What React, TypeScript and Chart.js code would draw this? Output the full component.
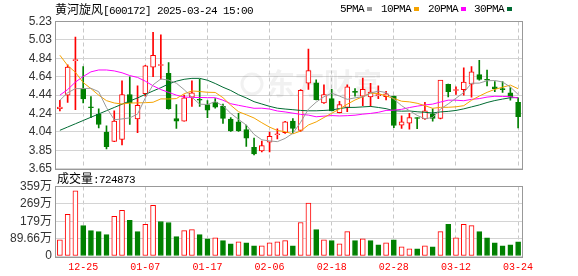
import React, { useEffect, useRef } from 'react';
import { Chart, registerables } from 'chart.js';

Chart.register(...registerables);

// ---------- data ----------
const dates = [
  '12-20', '12-23', '12-24', '12-25', '12-26', '12-27', '12-30', '12-31', '01-02', '01-03',
  '01-06', '01-07', '01-08', '01-09', '01-10', '01-13', '01-14', '01-15', '01-16', '01-17',
  '01-20', '01-21', '01-22', '01-23', '01-24', '01-27', '02-05', '02-06', '02-07', '02-10',
  '02-11', '02-12', '02-13', '02-14', '02-17', '02-18', '02-19', '02-20', '02-21', '02-24',
  '02-25', '02-26', '02-27', '02-28', '03-03', '03-04', '03-05', '03-06', '03-07', '03-10',
  '03-11', '03-12', '03-13', '03-14', '03-17', '03-18', '03-19', '03-20', '03-21', '03-24',
];
const shownDates = ['12-25', '01-07', '01-17', '02-06', '02-18', '02-28', '03-12', '03-24'];

const opens = [
  4.294, 4.44, 4.81, 4.51, 4.31, 4.235, 4.045, 3.943, 3.965, 4.447,
  4.184, 4.455, 4.74, 4.758, 4.674, 4.188, 4.162, 4.418, 4.39, 4.338,
  4.367, 4.32, 4.184, 4.155, 4.07, 3.88, 3.843, 3.935, 4.015, 4.038,
  4.162, 4.063, 4.568, 4.572, 4.356, 4.403, 4.253, 4.308, 4.475, 4.43,
  4.42, 4.435, 4.425, 4.429, 4.118, 4.14, 4.196, 4.184, 4.239, 4.191,
  4.557, 4.49, 4.5, 4.557, 4.66, 4.61, 4.528, 4.505, 4.466, 4.363,
];
const highs = [
  4.385, 4.765, 5.062, 4.747, 4.425, 4.294, 4.11, 4.272, 4.594, 4.637,
  4.539, 4.76, 5.113, 5.087, 4.79, 4.338, 4.44, 4.594, 4.61, 4.381,
  4.403, 4.345, 4.2, 4.246, 4.118, 3.979, 3.946, 4.045, 4.08, 4.16,
  4.19, 4.5, 4.934, 4.605, 4.55, 4.502, 4.374, 4.55, 4.51, 4.623,
  4.568, 4.54, 4.48, 4.43, 4.217, 4.246, 4.2, 4.363, 4.294, 4.6,
  4.56, 4.528, 4.733, 4.747, 4.813, 4.71, 4.586, 4.586, 4.52, 4.41,
];
const lows = [
  4.27, 4.363, 4.283, 4.356, 4.199, 4.089, 3.862, 3.94, 3.906, 4.125,
  4.038, 4.43, 4.637, 4.612, 4.29, 4.082, 4.16, 4.32, 4.32, 4.199,
  4.3, 4.136, 4.05, 4.05, 3.89, 3.8, 3.83, 3.83, 3.97, 4.03,
  4.027, 4.05, 4.502, 4.39, 4.35, 4.27, 4.25, 4.264, 4.43, 4.327,
  4.32, 4.403, 4.39, 4.09, 4.082, 4.075, 4.08, 4.18, 4.162, 4.185,
  4.422, 4.447, 4.44, 4.418, 4.6, 4.54, 4.477, 4.47, 4.385, 4.089,
];
const closes = [
  4.312, 4.74, 4.815, 4.4, 4.305, 4.125, 3.888, 4.162, 4.447, 4.356,
  4.33, 4.755, 4.868, 4.76, 4.294, 4.162, 4.41, 4.466, 4.385, 4.279,
  4.312, 4.191, 4.056, 4.06, 3.978, 3.81, 3.899, 3.997, 4.02, 4.155,
  4.082, 4.491, 4.703, 4.392, 4.447, 4.272, 4.338, 4.528, 4.47, 4.502,
  4.473, 4.44, 4.455, 4.114, 4.155, 4.199, 4.19, 4.272, 4.191, 4.601,
  4.477, 4.492, 4.58, 4.689, 4.608, 4.6, 4.51, 4.5, 4.418, 4.21,
];
// volume in 万 (10k shares)
const volumes = [
  84, 215, 336, 157, 131, 126, 110, 205, 236, 184,
  126, 163, 262, 178, 173, 100, 131, 136, 110, 89,
  94, 79, 63, 73, 68, 52, 52, 68, 73, 79,
  52, 173, 273, 136, 84, 79, 63, 126, 79, 89,
  79, 58, 68, 84, 47, 37, 37, 52, 47, 126,
  163, 94, 163, 157, 126, 94, 68, 52, 58, 72.4873,
];
const ma5 = [
  4.385, 4.466, 4.51, 4.51, 4.514, 4.477, 4.307, 4.176, 4.185, 4.196,
  4.237, 4.41, 4.551, 4.614, 4.601, 4.568, 4.499, 4.418, 4.343, 4.34,
  4.37, 4.327, 4.245, 4.18, 4.119, 4.019, 3.961, 3.949, 3.941, 3.976,
  4.031, 4.149, 4.29, 4.365, 4.423, 4.461, 4.43, 4.395, 4.411, 4.422,
  4.462, 4.483, 4.468, 4.397, 4.327, 4.273, 4.223, 4.186, 4.201, 4.291,
  4.346, 4.407, 4.468, 4.568, 4.569, 4.594, 4.597, 4.581, 4.527, 4.448,
];
const ma10 = [
  4.868, 4.758, 4.685, 4.575, 4.51, 4.44, 4.381, 4.356, 4.345, 4.355,
  4.357, 4.359, 4.364, 4.4, 4.399, 4.403, 4.455, 4.485, 4.479, 4.471,
  4.469, 4.413, 4.332, 4.262, 4.23, 4.195, 4.144, 4.097, 4.061, 4.048,
  4.025, 4.055, 4.12, 4.153, 4.2, 4.246, 4.29, 4.343, 4.388, 4.423,
  4.462, 4.457, 4.432, 4.404, 4.375, 4.368, 4.353, 4.327, 4.299, 4.309,
  4.31, 4.315, 4.327, 4.385, 4.43, 4.47, 4.502, 4.525, 4.548, 4.509,
];
const ma20 = [
  4.44, 4.5, 4.58, 4.64, 4.69, 4.71, 4.71, 4.7, 4.68, 4.65,
  4.63, 4.59, 4.54, 4.5, 4.47, 4.44, 4.42, 4.415, 4.415, 4.413,
  4.413, 4.386, 4.348, 4.331, 4.315, 4.299, 4.3, 4.291, 4.27, 4.26,
  4.247, 4.234, 4.226, 4.208, 4.215, 4.221, 4.217, 4.22, 4.225, 4.236,
  4.244, 4.256, 4.276, 4.279, 4.288, 4.307, 4.322, 4.335, 4.344, 4.366,
  4.386, 4.386, 4.38, 4.395, 4.403, 4.419, 4.428, 4.426, 4.424, 4.409,
];
const ma30 = [
  4.063, 4.098, 4.133, 4.168, 4.203, 4.238, 4.273, 4.308, 4.343, 4.378,
  4.41, 4.448, 4.485, 4.52, 4.56, 4.59, 4.61, 4.62, 4.62, 4.6,
  4.565, 4.525, 4.49, 4.445, 4.41, 4.37, 4.345, 4.32, 4.3, 4.291,
  4.284, 4.276, 4.272, 4.272, 4.276, 4.281, 4.296, 4.308, 4.309, 4.314,
  4.319, 4.308, 4.295, 4.273, 4.268, 4.27, 4.262, 4.256, 4.249, 4.26,
  4.266, 4.276, 4.293, 4.314, 4.335, 4.361, 4.382, 4.398, 4.412, 4.414,
];

const priceTickLabels = ['3.65', '3.85', '4.04', '4.24', '4.44', '4.64', '4.84', '5.03', '5.23'];
const priceMin = 3.65;
const priceMax = 5.23;
const volTickLabels = ['0', '89.66万', '179万', '269万', '359万'];
const volMax = 358.64;
const lastVolume = '724873';
const stockName = '黄河旋风';
const stockInfo = '[600172] 2025-03-24 15:00';
const maNames = ['5PMA', '10PMA', '20PMA', '30PMA'];

// ---------- styles ----------
const RED = '#ff0000';
const GREEN = '#008000';
const MA_COLORS = ['#9a9a9a', '#f5a300', '#ff00ff', '#006b33'];
const AXIS_FONT = '"Liberation Sans", Arial, "Noto Sans CJK SC", sans-serif';
const MONO_FONT = '"Liberation Mono", "DejaVu Sans Mono", monospace';
const CJK_FONT = '"Noto Sans CJK SC", sans-serif';
const LEGEND_POS = [340, 381, 428, 474];

export default function App() {
  const priceRef = useRef<HTMLCanvasElement>(null);
  const volRef = useRef<HTMLCanvasElement>(null);

  useEffect(() => {
    document.body.style.margin = '0';
    const up = closes.map((c, i) => c >= opens[i]);
    const volUp = closes.map((c, i) => (i === 0 ? up[0] : c >= closes[i - 1]));
    const isShown = (i: number) => shownDates.includes(dates[i]);

    const framePlugin = {
      id: 'frame',
      beforeDatasetsDraw(chart: any) {
        const { ctx, chartArea: a } = chart;
        ctx.save();
        ctx.strokeStyle = '#999999';
        ctx.lineWidth = 1;
        ctx.strokeRect(Math.round(a.left) - 0.5, Math.round(a.top) - 0.5,
          Math.round(a.right - a.left) + 1, Math.round(a.bottom - a.top) + 1);
        ctx.restore();
      },
    };
    const watermarkPlugin = {
      id: 'watermark',
      beforeDatasetsDraw(chart: any) {
        const { ctx } = chart;
        ctx.save();
        ctx.fillStyle = 'rgba(120,120,120,0.10)';
        ctx.font = 'bold 29px "Noto Sans CJK SC", sans-serif';
        ctx.textBaseline = 'middle';
        ctx.fillText('东方财富', 266, 84);
        ctx.beginPath();
        ctx.arc(252, 84, 10, 0, Math.PI * 2);
        ctx.lineWidth = 3;
        ctx.strokeStyle = 'rgba(120,120,120,0.10)';
        ctx.stroke();
        ctx.restore();
      },
    };

    const xBase = (showLabels: boolean) => ({
      offset: true,
      grid: {
        offset: false,
        drawTicks: false,
        lineWidth: 1,
        color: (ctx: any) => (isShown(ctx.index) ? '#c8c8c8' : 'rgba(0,0,0,0)'),
      },
      border: { display: false, dash: [4, 3] },
      ticks: {
        display: showLabels,
        autoSkip: false,
        maxRotation: 0,
        minRotation: 0,
        padding: 5,
        color: RED,
        font: { family: MONO_FONT, size: 10 },
        callback: (_v: any, i: number) => (isShown(i) ? dates[i] : ''),
      },
    });

    const priceChart = new Chart(priceRef.current as HTMLCanvasElement, {
      type: 'bar',
      data: {
        labels: dates,
        datasets: [
          { type: 'line', data: ma5, borderColor: MA_COLORS[0], borderWidth: 1, pointRadius: 0, order: 0 },
          { type: 'line', data: ma10, borderColor: MA_COLORS[1], borderWidth: 1, pointRadius: 0, order: 0 },
          { type: 'line', data: ma20, borderColor: MA_COLORS[2], borderWidth: 1, pointRadius: 0, order: 0 },
          { type: 'line', data: ma30, borderColor: MA_COLORS[3], borderWidth: 1, pointRadius: 0, order: 0 },
          {
            type: 'bar',
            data: opens.map((o, i) => [o, closes[i]]),
            backgroundColor: up.map((u) => (u ? '#ffffff' : GREEN)),
            borderColor: up.map((u) => (u ? RED : GREEN)),
            borderWidth: 1,
            borderSkipped: false,
            barThickness: 5,
            minBarLength: 1,
            grouped: false,
            order: 1,
          },
          {
            type: 'bar',
            data: lows.map((l, i) => [l, highs[i]]),
            backgroundColor: up.map((u) => (u ? RED : GREEN)),
            borderWidth: 0,
            barThickness: 1,
            grouped: false,
            order: 2,
          },
        ] as any,
      },
      options: {
        animation: false,
        responsive: false,
        devicePixelRatio: 1,
        events: [],
        layout: { padding: { top: 21.5, right: 56, bottom: 8, left: 0 } },
        plugins: { legend: { display: false }, tooltip: { enabled: false } },
        scales: {
          x: xBase(false) as any,
          y: {
            min: priceMin,
            max: priceMax,
            afterBuildTicks: (s: any) => {
              const n = priceTickLabels.length;
              s.ticks = priceTickLabels.map((_, i) => ({ value: priceMin + (i * (priceMax - priceMin)) / (n - 1) }));
            },
            afterFit: (s: any) => { s.width = 56; },
            grid: { color: '#d4d4d4', drawTicks: false },
            border: { display: false },
            ticks: {
              autoSkip: false,
              padding: 4,
              color: '#333333',
              font: { family: AXIS_FONT, size: 12 },
              callback: (_v: any, i: number) => priceTickLabels[i],
            },
          },
        },
      },
      plugins: [framePlugin, watermarkPlugin],
    });

    const volChart = new Chart(volRef.current as HTMLCanvasElement, {
      type: 'bar',
      data: {
        labels: dates,
        datasets: [
          {
            data: volumes,
            backgroundColor: volUp.map((u) => (u ? '#ffffff' : GREEN)),
            borderColor: volUp.map((u) => (u ? RED : GREEN)),
            borderWidth: 1,
            borderSkipped: false,
            barThickness: 5,
          },
        ],
      },
      options: {
        animation: false,
        responsive: false,
        devicePixelRatio: 1,
        events: [],
        layout: { padding: { top: 14.5, right: 56, bottom: 4, left: 0 } },
        plugins: { legend: { display: false }, tooltip: { enabled: false } },
        scales: {
          x: xBase(true) as any,
          y: {
            min: 0,
            max: volMax,
            afterBuildTicks: (s: any) => {
              const n = volTickLabels.length;
              s.ticks = volTickLabels.map((_, i) => ({ value: (i * volMax) / (n - 1) }));
            },
            afterFit: (s: any) => { s.width = 56; },
            grid: { color: '#d4d4d4', drawTicks: false },
            border: { display: false },
            ticks: {
              autoSkip: false,
              padding: 4,
              color: '#333333',
              font: { family: AXIS_FONT, size: 12 },
              callback: (_v: any, i: number) => volTickLabels[i],
            },
          },
        },
      },
      plugins: [framePlugin],
    });

    return () => {
      priceChart.destroy();
      volChart.destroy();
    };
  }, []);

  const mono11 = { fontFamily: MONO_FONT, fontSize: 11, letterSpacing: '-0.6px' };

  return (
    <div style={{ position: 'absolute', left: 0, top: 0, width: 578, height: 276, background: '#ffffff', overflow: 'hidden' }}>
      <canvas ref={priceRef} width={578} height={180} style={{ position: 'absolute', left: 0, top: 0, width: 578, height: 180 }} />
      <canvas ref={volRef} width={578} height={110} style={{ position: 'absolute', left: 0, top: 172, width: 578, height: 110 }} />
      <div style={{ position: 'absolute', left: 55, top: 1, whiteSpace: 'nowrap', color: '#000', lineHeight: '16px' }}>
        <span style={{ fontFamily: CJK_FONT, fontSize: 12 }}>{stockName}</span>
        <span style={mono11}>{stockInfo}</span>
      </div>
      {maNames.map((name, i) => (
        <div key={name} style={{ position: 'absolute', left: LEGEND_POS[i], top: 2, whiteSpace: 'nowrap', lineHeight: '14px', color: '#000', ...mono11 }}>
          {name}
          <span style={{ display: 'inline-block', width: 5, height: 4, marginLeft: 3, marginBottom: 1, background: MA_COLORS[i] }} />
        </div>
      ))}
      <div style={{ position: 'absolute', left: 57, top: 170, whiteSpace: 'nowrap', lineHeight: '15px', color: '#000' }}>
        <span style={{ fontFamily: CJK_FONT, fontSize: 12 }}>成交量</span>
        <span style={mono11}>:{lastVolume}</span>
      </div>
    </div>
  );
}
